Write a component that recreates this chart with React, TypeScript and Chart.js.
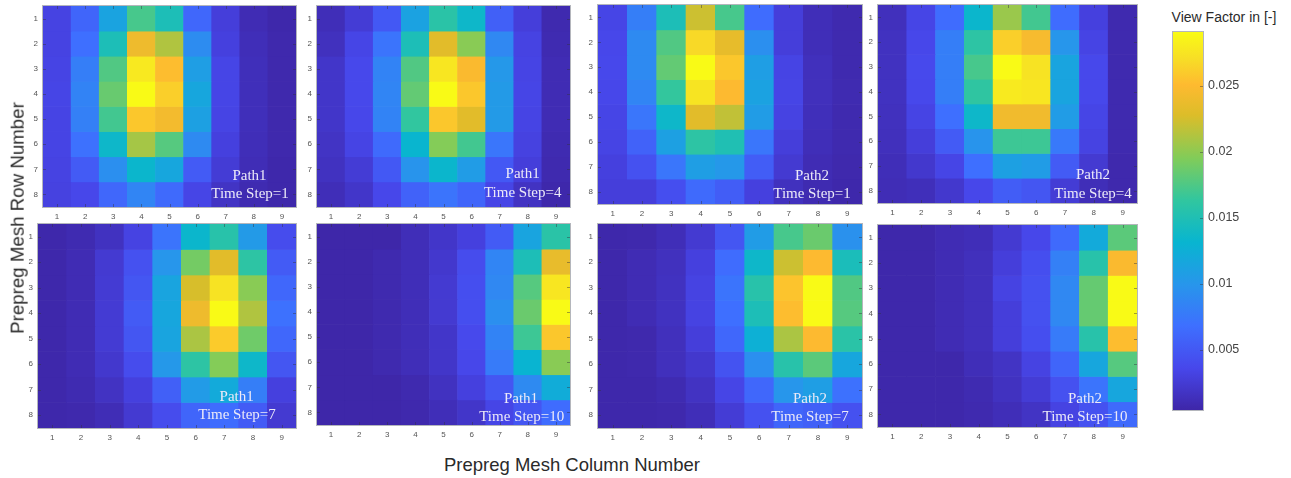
import React, { useEffect, useRef } from "react";
import { Chart, registerables } from "chart.js";

Chart.register(...registerables);

const columns = ["1", "2", "3", "4", "5", "6", "7", "8", "9"];
const rows = [1, 2, 3, 4, 5, 6, 7, 8];
const colorbarTicks = [0.005, 0.01, 0.015, 0.02, 0.025];
const colorMin = 0.00045;
const colorMax = 0.02906;

const path1Step1 = [
  [.0032, .0060, .0113, .0172, .0148, .0062, .0028, .0010, .0006],
  [.0032, .0068, .0148, .0240, .0212, .0092, .0030, .0012, .0007],
  [.0033, .0080, .0176, .0278, .0252, .0108, .0034, .0013, .0007],
  [.0034, .0084, .0185, .0290, .0262, .0116, .0034, .0013, .0007],
  [.0033, .0082, .0170, .0258, .0243, .0110, .0033, .0013, .0007],
  [.0033, .0070, .0136, .0208, .0178, .0090, .0030, .0012, .0007],
  [.0032, .0052, .0094, .0134, .0116, .0052, .0026, .0011, .0006],
  [.0031, .0036, .0062, .0086, .0064, .0034, .0018, .0009, .0006],
];
const path1Step4 = [
  [.0012, .0026, .0050, .0112, .0158, .0136, .0056, .0028, .0008],
  [.0015, .0034, .0072, .0148, .0232, .0198, .0088, .0032, .0009],
  [.0020, .0037, .0084, .0176, .0276, .0248, .0102, .0033, .0010],
  [.0020, .0037, .0086, .0183, .0290, .0258, .0104, .0034, .0010],
  [.0020, .0036, .0084, .0163, .0258, .0232, .0104, .0033, .0010],
  [.0018, .0033, .0064, .0132, .0196, .0170, .0074, .0031, .0009],
  [.0016, .0026, .0050, .0098, .0134, .0106, .0050, .0028, .0008],
  [.0012, .0020, .0036, .0058, .0072, .0060, .0034, .0017, .0006],
];
const path2Step1 = [
  [.0034, .0080, .0148, .0222, .0172, .0066, .0028, .0012, .0008],
  [.0036, .0090, .0176, .0268, .0235, .0094, .0028, .0012, .0008],
  [.0037, .0090, .0183, .0290, .0258, .0108, .0033, .0014, .0008],
  [.0036, .0086, .0164, .0275, .0250, .0112, .0034, .0014, .0009],
  [.0034, .0074, .0136, .0232, .0218, .0106, .0032, .0013, .0008],
  [.0033, .0058, .0110, .0160, .0150, .0074, .0028, .0012, .0008],
  [.0030, .0044, .0074, .0108, .0102, .0054, .0024, .0010, .0007],
  [.0028, .0028, .0042, .0064, .0054, .0030, .0015, .0009, .0006],
];
const path2Step4 = [
  [.0014, .0034, .0066, .0134, .0204, .0170, .0066, .0030, .0008],
  [.0016, .0036, .0080, .0160, .0262, .0246, .0100, .0033, .0008],
  [.0016, .0038, .0080, .0172, .0290, .0274, .0114, .0037, .0008],
  [.0016, .0037, .0080, .0162, .0279, .0276, .0114, .0037, .0008],
  [.0015, .0033, .0068, .0136, .0242, .0242, .0106, .0034, .0008],
  [.0014, .0028, .0052, .0098, .0168, .0168, .0076, .0032, .0008],
  [.0012, .0022, .0034, .0068, .0110, .0106, .0052, .0024, .0007],
  [.0011, .0013, .0022, .0036, .0054, .0048, .0026, .0012, .0007],
];
const path1Step7 = [
  [.0006, .0009, .0016, .0032, .0072, .0134, .0156, .0104, .0040],
  [.0006, .0010, .0024, .0044, .0100, .0190, .0232, .0160, .0052],
  [.0006, .0010, .0025, .0048, .0114, .0226, .0274, .0198, .0062],
  [.0006, .0010, .0025, .0052, .0116, .0240, .0290, .0212, .0070],
  [.0006, .0010, .0025, .0048, .0114, .0210, .0260, .0188, .0062],
  [.0006, .0010, .0022, .0040, .0102, .0160, .0196, .0136, .0048],
  [.0006, .0009, .0017, .0030, .0056, .0105, .0120, .0080, .0030],
  [.0006, .0007, .0011, .0024, .0040, .0060, .0066, .0052, .0024],
];
const path1Step10 = [
  [.0005, .0005, .0005, .0012, .0020, .0030, .0052, .0114, .0158],
  [.0005, .0005, .0008, .0012, .0022, .0040, .0086, .0148, .0236],
  [.0005, .0005, .0008, .0012, .0024, .0042, .0088, .0178, .0276],
  [.0005, .0005, .0008, .0012, .0024, .0042, .0094, .0186, .0290],
  [.0005, .0005, .0008, .0012, .0020, .0038, .0084, .0168, .0258],
  [.0005, .0005, .0008, .0012, .0020, .0036, .0078, .0130, .0198],
  [.0005, .0005, .0005, .0008, .0016, .0030, .0048, .0090, .0122],
  [.0005, .0005, .0005, .0007, .0012, .0020, .0034, .0048, .0066],
];
const path2Step7 = [
  [.0006, .0007, .0012, .0024, .0048, .0106, .0172, .0186, .0096],
  [.0006, .0010, .0015, .0030, .0066, .0136, .0222, .0250, .0146],
  [.0006, .0010, .0016, .0032, .0072, .0156, .0256, .0290, .0176],
  [.0006, .0010, .0016, .0032, .0068, .0148, .0252, .0290, .0178],
  [.0006, .0007, .0014, .0028, .0062, .0126, .0210, .0250, .0158],
  [.0006, .0007, .0014, .0022, .0046, .0094, .0156, .0180, .0116],
  [.0006, .0006, .0009, .0017, .0034, .0062, .0100, .0108, .0070],
  [.0006, .0006, .0007, .0012, .0026, .0044, .0060, .0056, .0044],
];
const path2Step10 = [
  [.0006, .0006, .0010, .0012, .0024, .0036, .0064, .0120, .0180],
  [.0006, .0006, .0010, .0014, .0028, .0042, .0082, .0156, .0248],
  [.0006, .0006, .0010, .0014, .0032, .0044, .0088, .0184, .0290],
  [.0006, .0006, .0010, .0014, .0028, .0044, .0088, .0184, .0290],
  [.0006, .0006, .0010, .0014, .0028, .0042, .0078, .0156, .0252],
  [.0006, .0006, .0006, .0012, .0018, .0032, .0060, .0116, .0178],
  [.0006, .0006, .0006, .0009, .0016, .0026, .0044, .0072, .0116],
  [.0006, .0006, .0006, .0008, .0012, .0018, .0032, .0044, .0064],
];

// parula stops: position, r, g, b
const parula: number[][] = [
  [0, 62, 38, 168],
  [0.111, 71, 71, 235],
  [0.222, 62, 111, 255],
  [0.333, 39, 150, 235],
  [0.444, 8, 181, 208],
  [0.555, 49, 198, 159],
  [0.666, 129, 204, 89],
  [0.78, 220, 189, 41],
  [0.86, 254, 186, 48],
  [0.93, 247, 222, 38],
  [1, 249, 251, 21],
];

function colorAt(v: number) {
  const t = Math.min(1, Math.max(0, (v - colorMin) / (colorMax - colorMin)));
  let i = 0;
  while (i < parula.length - 2 && t > parula[i + 1][0]) i++;
  const a = parula[i];
  const b = parula[i + 1];
  const f = (t - a[0]) / (b[0] - a[0]);
  const c = [1, 2, 3].map((k) => Math.round(a[k] + (b[k] - a[k]) * f));
  return `rgb(${c[0]},${c[1]},${c[2]})`;
}

const PAD_L = 30;
const PAD_B = 20;
const PAD_T = 2;
const PAD_R = 2;

const panels = [
  { grid: path1Step1, path: "Path1", step: "Time Step=1", box: [43, 6, 296, 207], pathAt: [249.5, 175], stepAt: [250, 193] },
  { grid: path1Step4, path: "Path1", step: "Time Step=4", box: [317, 6, 570, 207], pathAt: [522.7, 173], stepAt: [522.7, 192] },
  { grid: path2Step1, path: "Path2", step: "Time Step=1", box: [598, 5, 862, 204], pathAt: [812, 175], stepAt: [812, 193] },
  { grid: path2Step4, path: "Path2", step: "Time Step=4", box: [878, 5, 1137, 203], pathAt: [1093, 174], stepAt: [1093, 193] },
  { grid: path1Step7, path: "Path1", step: "Time Step=7", box: [38, 224, 296, 428], pathAt: [236.7, 395.7], stepAt: [237, 413.7] },
  { grid: path1Step10, path: "Path1", step: "Time Step=10", box: [317, 224, 570, 425], pathAt: [521, 397.7], stepAt: [521.7, 416] },
  { grid: path2Step7, path: "Path2", step: "Time Step=7", box: [598, 224, 862, 428], pathAt: [810, 397.7], stepAt: [810, 416] },
  { grid: path2Step10, path: "Path2", step: "Time Step=10", box: [878, 225, 1137, 427], pathAt: [1085, 397.7], stepAt: [1085, 416] },
];

function clearScalePadding(s: any) {
  s.paddingTop = 0;
  s.paddingBottom = 0;
  s.paddingLeft = 0;
  s.paddingRight = 0;
}

const framePlugin = {
  id: "frame",
  afterDraw(chart: any) {
    const { ctx, chartArea: a, scales } = chart;
    const colorbar = !!chart.options.plugins.frame?.colorbar;
    ctx.save();
    ctx.lineWidth = 1;
    ctx.strokeStyle = "rgba(50,50,60,0.45)";
    ctx.beginPath();
    const len = 3;
    if (!colorbar) {
      scales.x.ticks.forEach((_: any, i: number) => {
        const x = Math.round(scales.x.getPixelForTick(i)) + 0.5;
        ctx.moveTo(x, a.top);
        ctx.lineTo(x, a.top + len);
        ctx.moveTo(x, a.bottom);
        ctx.lineTo(x, a.bottom - len);
      });
    }
    scales.y.ticks.forEach((_: any, i: number) => {
      const y = Math.round(scales.y.getPixelForTick(i)) + 0.5;
      if (!colorbar) {
        ctx.moveTo(a.left, y);
        ctx.lineTo(a.left + len, y);
      }
      ctx.moveTo(a.right, y);
      ctx.lineTo(a.right - len, y);
    });
    ctx.stroke();
    ctx.strokeStyle = "#b4b6bc";
    ctx.strokeRect(a.left - 0.5, a.top - 0.5, a.right - a.left + 1, a.bottom - a.top + 1);
    ctx.restore();
  },
};

function Heatmap({ panel }: { panel: (typeof panels)[number] }) {
  const ref = useRef<HTMLCanvasElement>(null);
  const [x0, y0, x1, y1] = panel.box;
  const width = x1 - x0 + PAD_L + PAD_R;
  const height = y1 - y0 + PAD_B + PAD_T;
  useEffect(() => {
    const chart = new Chart(ref.current!, {
      type: "bar",
      data: {
        labels: columns,
        datasets: panel.grid.map((values, r) => ({
          label: String(rows[r]),
          data: values.map(() => [rows[r] - 0.5, rows[r] + 0.5]),
          backgroundColor: values.map(colorAt),
          borderWidth: 0,
          barPercentage: 1,
          categoryPercentage: 1,
        })),
      },
      options: {
        animation: false,
        responsive: false,
        layout: { autoPadding: false, padding: { top: PAD_T, right: PAD_R, left: 0, bottom: 0 } },
        plugins: { legend: { display: false }, tooltip: { enabled: false } },
        scales: {
          x: {
            stacked: true,
            grid: { display: false, drawTicks: false },
            border: { display: false },
            ticks: { font: { size: 8, family: "Liberation Sans" }, color: "#555", padding: 5, maxRotation: 0, autoSkip: false },
            afterFit: (s: any) => { s.height = PAD_B; clearScalePadding(s); },
          },
          y: {
            type: "linear",
            reverse: true,
            min: 0.5,
            max: 8.5,
            grid: { display: false, drawTicks: false },
            border: { display: false },
            afterBuildTicks: (s: any) => { s.ticks = rows.map((value) => ({ value })); },
            ticks: { font: { size: 8, family: "Liberation Sans" }, color: "#555", padding: 5, autoSkip: false, callback: (v: any) => String(v) },
            afterFit: (s: any) => { s.width = PAD_L; clearScalePadding(s); },
          },
        },
      } as any,
      plugins: [framePlugin],
    });
    return () => chart.destroy();
  }, []);
  return (
    <canvas
      ref={ref}
      width={width}
      height={height}
      style={{ position: "absolute", left: x0 - PAD_L, top: y0 - PAD_T, width, height }}
    />
  );
}

function Colorbar() {
  const ref = useRef<HTMLCanvasElement>(null);
  const box = [1173, 32, 1203, 410];
  const labelW = 50;
  const width = box[2] - box[0] + labelW + PAD_R;
  const height = box[3] - box[1] + 4;
  useEffect(() => {
    const chart = new Chart(ref.current!, {
      type: "bar",
      data: {
        labels: ["View Factor"],
        datasets: [
          {
            label: "View Factor in [-]",
            data: [[colorMin, colorMax]],
            borderWidth: 0,
            barPercentage: 1,
            categoryPercentage: 1,
            backgroundColor: (c: any) => {
              const a = c.chart.chartArea;
              if (!a) return "#3e26a8";
              const g = c.chart.ctx.createLinearGradient(0, a.bottom, 0, a.top);
              parula.forEach((p) => g.addColorStop(p[0], `rgb(${p[1]},${p[2]},${p[3]})`));
              return g;
            },
          },
        ],
      },
      options: {
        animation: false,
        responsive: false,
        layout: { autoPadding: false, padding: { top: 2, bottom: 2, left: PAD_R, right: 0 } },
        plugins: { legend: { display: false }, tooltip: { enabled: false }, frame: { colorbar: true } },
        scales: {
          x: { display: false },
          y: {
            position: "right",
            min: colorMin,
            max: colorMax,
            grid: { display: false, drawTicks: false },
            border: { display: false },
            afterBuildTicks: (s: any) => { s.ticks = colorbarTicks.map((value) => ({ value })); },
            ticks: { font: { size: 12.5, family: "Liberation Sans" }, color: "#444", padding: 5, autoSkip: false, callback: (v: any) => String(v) },
            afterFit: (s: any) => { s.width = labelW; clearScalePadding(s); },
          },
        },
      } as any,
      plugins: [framePlugin],
    });
    return () => chart.destroy();
  }, []);
  return (
    <canvas
      ref={ref}
      width={width}
      height={height}
      style={{ position: "absolute", left: box[0] - PAD_R, top: box[1] - 2, width, height }}
    />
  );
}

const labelStyle: React.CSSProperties = {
  position: "absolute",
  transform: "translate(-50%, -50%)",
  whiteSpace: "nowrap",
  lineHeight: 1,
};

export default function App() {
  const serif: React.CSSProperties = { ...labelStyle, fontFamily: "Liberation Serif", fontSize: 15, color: "#eceaf8" };
  const sans: React.CSSProperties = { ...labelStyle, fontFamily: "Liberation Sans", color: "#2a2a2a" };
  return (
    <div style={{ position: "absolute", left: 0, top: 0, width: 1291, height: 478, overflow: "hidden", background: "#fff" }}>
      {panels.map((p, i) => (
        <Heatmap key={i} panel={p} />
      ))}
      <Colorbar />
      {panels.map((p, i) => (
        <React.Fragment key={i}>
          <div style={{ ...serif, left: p.pathAt[0], top: p.pathAt[1] }}>{p.path}</div>
          <div style={{ ...serif, left: p.stepAt[0], top: p.stepAt[1] }}>{p.step}</div>
        </React.Fragment>
      ))}
      <div style={{ ...sans, left: 1224, top: 17, fontSize: 14 }}>View Factor in [-]</div>
      <div style={{ ...sans, left: 18, top: 218, fontSize: 18.7, transform: "translate(-50%, -50%) rotate(-90deg)" }}>
        Prepreg Mesh Row Number
      </div>
      <div style={{ ...sans, left: 572, top: 465, fontSize: 18.5 }}>Prepreg Mesh Column Number</div>
    </div>
  );
}
